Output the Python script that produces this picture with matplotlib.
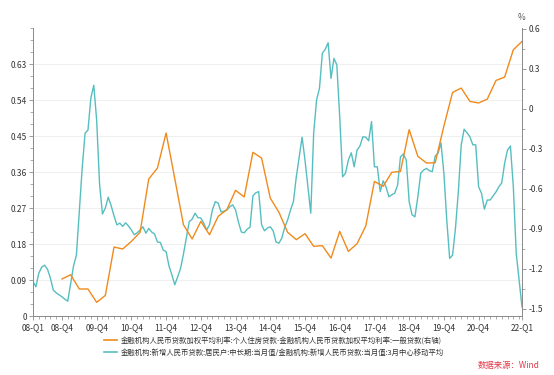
import matplotlib
matplotlib.use("Agg")
import matplotlib.pyplot as plt
from matplotlib.ticker import MultipleLocator, FixedLocator, FuncFormatter
from matplotlib.lines import Line2D
import pandas as pd

plt.rcParams['font.family'] = ['Noto Sans CJK SC', 'DejaVu Sans']
plt.rcParams['axes.unicode_minus'] = False

# ---------------- data ----------------
# teal: monthly, Feb 2008 .. Mar 2022 (left axis)
teal_start = "2008-02"
teal_values = [
    0.086, 0.073, 0.107, 0.122, 0.127, 0.117, 0.095, 0.065, 0.058, 0.053,
    0.048, 0.042, 0.037, 0.080, 0.125, 0.152, 0.260, 0.370, 0.457, 0.465,
    0.545, 0.577, 0.490, 0.330, 0.255, 0.270, 0.297, 0.276, 0.250, 0.228,
    0.232, 0.224, 0.233, 0.225, 0.215, 0.203, 0.208, 0.215, 0.223, 0.207,
    0.219, 0.210, 0.205, 0.185, 0.184, 0.165, 0.161, 0.125, 0.103, 0.078,
    0.098, 0.119, 0.155, 0.195, 0.236, 0.242, 0.257, 0.246, 0.245, 0.232,
    0.215, 0.228, 0.265, 0.286, 0.282, 0.260, 0.262, 0.265, 0.273, 0.278,
    0.265, 0.235, 0.210, 0.208, 0.217, 0.222, 0.300, 0.308, 0.311, 0.228,
    0.213, 0.220, 0.223, 0.213, 0.185, 0.182, 0.195, 0.222, 0.240, 0.265,
    0.286, 0.348, 0.398, 0.447, 0.390, 0.323, 0.257, 0.457, 0.540, 0.569,
    0.657, 0.667, 0.683, 0.594, 0.644, 0.628, 0.498, 0.348, 0.357, 0.390,
    0.408, 0.373, 0.415, 0.425, 0.448, 0.447, 0.438, 0.486, 0.373, 0.373,
    0.311, 0.338, 0.323, 0.298, 0.303, 0.307, 0.327, 0.398, 0.405, 0.390,
    0.286, 0.253, 0.248, 0.298, 0.357, 0.365, 0.369, 0.363, 0.361, 0.400,
    0.407, 0.433, 0.357, 0.240, 0.144, 0.152, 0.219, 0.311, 0.428, 0.467,
    0.458, 0.448, 0.428, 0.428, 0.323, 0.307, 0.267, 0.290, 0.290, 0.300,
    0.310, 0.323, 0.333, 0.382, 0.415, 0.425, 0.323, 0.157, 0.090, 0.023,
]

# orange: quarterly, Dec 2008 .. Mar 2022 (right axis, %)
orange_start = "2008-12"
orange_values = [
    -1.277, -1.245, -1.352, -1.352, -1.452, -1.400, -1.037, -1.052, -0.995, -0.927,
    -0.527, -0.445, -0.182, -0.525, -0.870, -0.977, -0.845, -0.945, -0.807, -0.757,
    -0.612, -0.662, -0.327, -0.370, -0.670, -0.777, -0.927, -0.982, -0.937, -1.032,
    -1.027, -1.120, -0.920, -1.070, -1.012, -0.880, -0.545, -0.582, -0.477, -0.470,
    -0.157, -0.357, -0.407, -0.405, -0.130, 0.122, 0.155, 0.055, 0.043, 0.072,
    0.212, 0.237, 0.442, 0.505,
]

tick_labels = ["08-Q1", "08-Q4", "09-Q4", "10-Q4", "11-Q4", "12-Q4", "13-Q4",
               "14-Q4", "15-Q4", "16-Q4", "17-Q4", "18-Q4", "19-Q4", "20-Q4", "22-Q1"]
tick_dates = ["2008-02", "2008-12", "2009-12", "2010-12", "2011-12", "2012-12",
              "2013-12", "2014-12", "2015-12", "2016-12", "2017-12", "2018-12",
              "2019-12", "2020-12", "2022-03"]

label_orange = "金融机构人民币贷款加权平均利率:个人住房贷款-金融机构人民币贷款加权平均利率:一般贷款(右轴)"
label_teal = "金融机构:新增人民币贷款:居民户:中长期:当月值/金融机构:新增人民币贷款:当月值:3月中心移动平均"
source_text = "数据来源：Wind"


# ---------------- helpers ----------------
def month_pos(ts):
    ts = pd.DatetimeIndex(ts)
    return list((ts.year - 2008) * 12 + (ts.month - 2))


teal_x = month_pos(pd.date_range(teal_start, periods=len(teal_values), freq="MS"))
orange_x = month_pos(pd.date_range(orange_start, periods=len(orange_values), freq="3MS"))
tick_x = month_pos(pd.to_datetime(tick_dates))

TEAL = "#56BEC0"
ORANGE = "#F08A1C"
AXC = "#8C8C8C"

fig = plt.figure(figsize=(5.54, 3.75), dpi=100)
ax = fig.add_axes([33 / 554, 1 - 316 / 375, (522 - 33) / 554, (316 - 28) / 375])
ax2 = ax.twinx()

ax.plot(teal_x, teal_values, color=TEAL, lw=1.0, zorder=3)
ax2.plot(orange_x, orange_values, color=ORANGE, lw=1.0, zorder=3)

ax.set_xlim(0, 169)
ax.set_ylim(0, 0.72)
ax2.set_ylim(-1.5545, 0.6055)

# grid
for v in [0.09 * i for i in range(1, 8)]:
    ax.axhline(v, color="#EDEDED", lw=0.6, zorder=0)

# spines
for a in (ax, ax2):
    a.spines["top"].set_visible(False)
    for s in ("left", "right", "bottom"):
        a.spines[s].set_color(AXC)
        a.spines[s].set_linewidth(0.7)

ax.yaxis.set_major_locator(FixedLocator([0.09 * i for i in range(0, 8)]))
ax.yaxis.set_minor_locator(MultipleLocator(0.03))
ax.yaxis.set_major_formatter(FuncFormatter(lambda v, p: "0" if abs(v) < 1e-9 else f"{v:.2f}"))

ax2.yaxis.set_major_locator(FixedLocator([0.6 - 0.3 * i for i in range(8)]))
ax2.yaxis.set_minor_locator(MultipleLocator(0.15))
ax2.yaxis.set_major_formatter(FuncFormatter(lambda v, p: "0" if abs(v) < 1e-9 else f"{v:.1f}"))

ax.xaxis.set_major_locator(FixedLocator(tick_x))
ax.set_xticklabels(tick_labels)
ax.xaxis.set_minor_locator(MultipleLocator(2))

for a in (ax, ax2):
    a.tick_params(axis="both", which="major", length=3, width=0.6, color=AXC,
                  labelsize=6, labelcolor="#333333", pad=1.5)
    a.tick_params(axis="both", which="minor", length=2, width=0.5, color=AXC)
ax.tick_params(axis="x", pad=2.5)

fig.text(522 / 554, 1 - 18 / 375, "%", ha="center", va="center", fontsize=6, color="#555555")

handles = [Line2D([], [], color=ORANGE, lw=1.2), Line2D([], [], color=TEAL, lw=1.2)]
fig.legend(handles, [label_orange, label_teal], loc="upper left",
           bbox_to_anchor=(104 / 554, 1 - 337 / 375), frameon=False,
           fontsize=5.3, handlelength=1.8, handletextpad=0.5, labelspacing=0.55,
           borderaxespad=0, borderpad=0, labelcolor="#333333")

fig.text(540 / 554, 1 - 365.5 / 375, source_text, ha="right", va="center",
         fontsize=6, color="#E3384A")

fig.savefig("out.png", dpi=100)
